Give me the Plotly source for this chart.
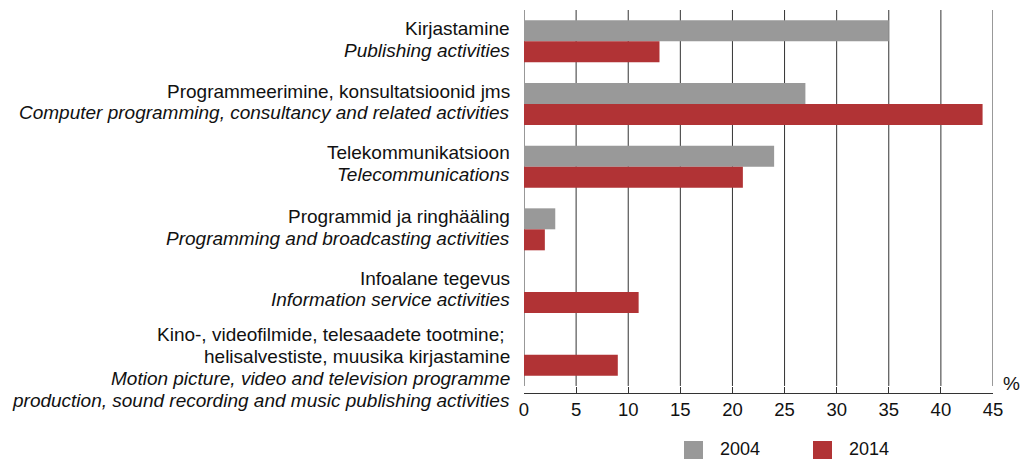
import plotly.graph_objects as go

categories_et = [
    ["Kirjastamine"],
    ["Programmeerimine, konsultatsioonid jms"],
    ["Telekommunikatsioon"],
    ["Programmid ja ringhääling"],
    ["Infoalane tegevus"],
    ["Kino-, videofilmide, telesaadete tootmine; ", "helisalvestiste, muusika kirjastamine"],
]
categories_en = [
    ["Publishing activities"],
    ["Computer programming, consultancy and related activities"],
    ["Telecommunications"],
    ["Programming and broadcasting activities"],
    ["Information service activities"],
    ["Motion picture, video and television programme",
     "production, sound recording and music publishing activities"],
]
cat_ids = ["c1", "c2", "c3", "c4", "c5", "c6"]
values_2004 = [35, 27, 24, 3, None, None]
values_2014 = [13, 44, 21, 2, 11, 9]
tick_vals = [0, 5, 10, 15, 20, 25, 30, 35, 40, 45]
series_names = ["2004", "2014"]

GRAY = "#999999"
RED = "#B13335"
TXT = "#111111"
FONT = "Liberation Sans, Arial, sans-serif"
FS = 19

fig = go.Figure()
fig.add_trace(go.Bar(y=cat_ids, x=values_2004, orientation="h", name=series_names[0],
                     marker=dict(color=GRAY, line=dict(width=0)), showlegend=False))
fig.add_trace(go.Bar(y=cat_ids, x=values_2014, orientation="h", name=series_names[1],
                     marker=dict(color=RED, line=dict(width=0)), showlegend=False))

shapes = []
for t in tick_vals:
    shapes.append(dict(type="line", xref="x", yref="y", x0=t, x1=t, y0=-0.5, y1=5.5,
                       line=dict(color="#333333", width=1), layer="below"))

annotations = []
LINE_H = 21.8
center_offsets = [-2, -2, -3, -2, -3, 13]
for i in range(len(cat_ids)):
    lines = [(s, False) for s in categories_et[i]] + [(s, True) for s in categories_en[i]]
    n = len(lines)
    for j, (s, it) in enumerate(lines):
        off = center_offsets[i] + (j - (n - 1) / 2) * LINE_H
        annotations.append(dict(
            xref="paper", yref="y", x=0, y=cat_ids[i], xanchor="right", yanchor="middle",
            xshift=-12, yshift=-off, align="right", showarrow=False,
            text=f"<i>{s}</i>" if it else s,
            font=dict(family=FONT, size=FS, color=TXT),
        ))
annotations.append(dict(xref="paper", yref="paper", x=1, y=0, xanchor="left", yanchor="middle",
                        xshift=8, yshift=10, text="%", showarrow=False,
                        font=dict(family=FONT, size=FS, color=TXT)))

# manual legend (pixel positions converted to paper coordinates)
PL, PW, PB, PH = 524, 469, 393, 383
legend_x = [684, 813]
for k, (nm, col) in enumerate(zip(series_names, [GRAY, RED])):
    shapes.append(dict(type="rect", xref="paper", yref="paper",
                       x0=(legend_x[k] - PL) / PW, x1=(legend_x[k] + 19 - PL) / PW,
                       y0=-(441 - PB) / PH, y1=-(459 - PB) / PH,
                       fillcolor=col, line=dict(width=0)))
    annotations.append(dict(xref="paper", yref="paper", x=(legend_x[k] + 34 - PL) / PW,
                            y=-(449 - PB) / PH, xanchor="left", yanchor="middle",
                            text=nm, showarrow=False,
                            font=dict(family=FONT, size=18, color=TXT)))

fig.update_layout(
    width=1024, height=460,
    margin=dict(l=524, r=31, t=10, b=67, autoexpand=False),
    plot_bgcolor="white", paper_bgcolor="white",
    barmode="group", bargap=0.33, bargroupgap=0,
    font=dict(family=FONT, size=FS, color=TXT),
    shapes=shapes, annotations=annotations,
    showlegend=False,
    xaxis=dict(range=[0, 45], tickvals=tick_vals, showgrid=False, zeroline=False,
               showline=True, linecolor="#333333", linewidth=1,
               ticks="inside", ticklen=6, tickcolor="#333333",
               tickfont=dict(family=FONT, size=18.5, color=TXT)),
    yaxis=dict(categoryorder="array", categoryarray=cat_ids, range=[5.612, -0.5],
               showticklabels=False, showgrid=False, zeroline=False, ticks=""),
)

fig.write_html("out.html", config={"displayModeBar": False},
               post_script="document.body.style.margin='0';document.body.style.overflow='hidden';")
